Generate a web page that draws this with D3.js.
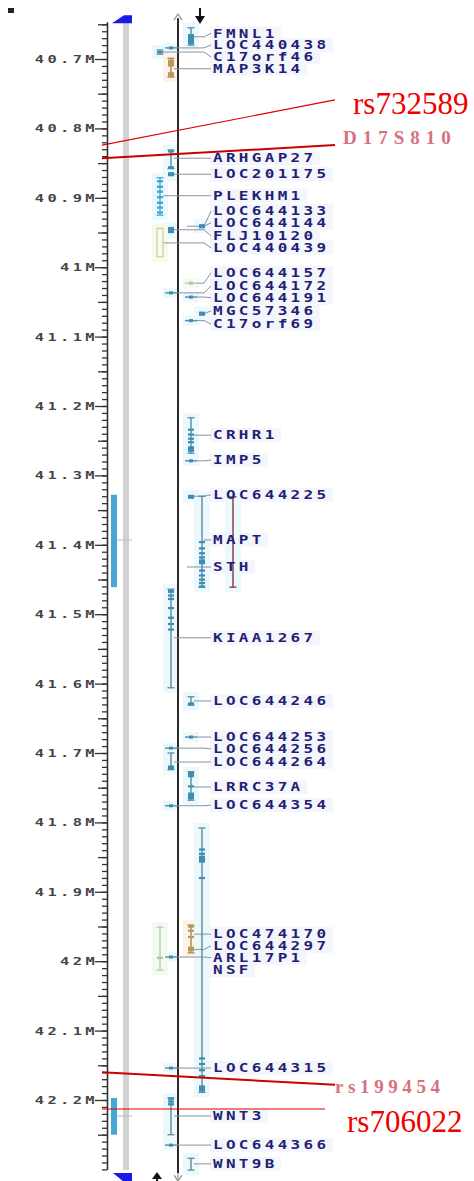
<!DOCTYPE html>
<html><head><meta charset="utf-8">
<script src="https://cdn.jsdelivr.net/npm/d3@7"></script>
<style>body{margin:0;background:#fff}svg{display:block}</style>
</head><body>
<svg id="c" width="474" height="1181"></svg>
<script>
// ---- data ----
const tickValues = [40.7,40.8,40.9,41.0,41.1,41.2,41.3,41.4,41.5,41.6,41.7,41.8,41.9,42.0,42.1,42.2];
const tickLabels = ["40.7M","40.8M","40.9M","41M","41.1M","41.2M","41.3M","41.4M","41.5M","41.6M","41.7M","41.8M","41.9M","42M","42.1M","42.2M"];
const viewRange = [40.647, 42.301];

// genes: name, lane, start, end (Mb), glyph kind, colour class, exons, connector anchor, label anchor (Mb)
const genes = [
  {name:"FMNL1",     lane:"R1", s:40.655, e:40.680, kind:"I",    c:"teal",  ex:[[40.664,40.679]], at:40.668, lab:40.663},
  {name:"LOC440438", lane:"L1", s:40.684, e:40.684, kind:"dash", c:"teal",  ex:[], at:40.684, lab:40.680},
  {name:"C17orf46",  lane:"L2", s:40.687, e:40.693, kind:"I",    c:"teal",  ex:[40.690], at:40.690, lab:40.697},
  {name:"MAP3K14",   lane:"L1", s:40.699, e:40.726, kind:"I",    c:"tan",   ex:[[40.701,40.711],[40.719,40.725]], at:40.714, lab:40.714},
  {name:"ARHGAP27",  lane:"L1", s:40.831, e:40.858, kind:"I",    c:"teal",  ex:[40.833,40.856], at:40.843, lab:40.843},
  {name:"LOC201175", lane:"L1", s:40.863, e:40.869, kind:"box",  c:"teal",  ex:[], at:40.866, lab:40.866},
  {name:"PLEKHM1",   lane:"L2", s:40.871, e:40.925, kind:"I",    c:"light", ex:[40.876,40.884,40.891,40.899,40.907,40.914,40.921], at:40.897, lab:40.897},
  {name:"LOC644133", lane:"R2", s:40.941, e:40.941, kind:"none", c:"teal",  ex:[], at:40.941, lab:40.919},
  {name:"LOC644144", lane:"R2", s:40.938, e:40.944, kind:"box",  c:"teal",  ex:[], at:40.941, lab:40.936, from:"R1"},
  {name:"FLJ10120",  lane:"L1", s:40.942, e:40.951, kind:"box",  c:"teal",  ex:[], at:40.946, lab:40.955},
  {name:"LOC440439", lane:"L2", s:40.944, e:40.985, kind:"outline", c:"yellow", ex:[], at:40.965, lab:40.972},
  {name:"LOC644157", lane:"R1", s:41.023, e:41.023, kind:"dash", c:"green", ex:[], at:41.023, lab:41.008},
  {name:"LOC644172", lane:"L1", s:41.037, e:41.037, kind:"dash", c:"teal",  ex:[], at:41.037, lab:41.027},
  {name:"LOC644191", lane:"R1", s:41.043, e:41.043, kind:"dash", c:"teal",  ex:[], at:41.043, lab:41.044},
  {name:"MGC57346",  lane:"R2", s:41.064, e:41.070, kind:"box",  c:"teal",  ex:[], at:41.067, lab:41.063},
  {name:"C17orf69",  lane:"R1", s:41.077, e:41.077, kind:"dash", c:"teal",  ex:[], at:41.077, lab:41.082},
  {name:"CRHR1",     lane:"R1", s:41.217, e:41.268, kind:"I",    c:"teal",  ex:[41.234,41.241,41.247,41.252,[41.258,41.266]], at:41.242, lab:41.242},
  {name:"IMP5",      lane:"R1", s:41.279, e:41.279, kind:"dash", c:"teal",  ex:[], at:41.279, lab:41.278},
  {name:"LOC644225", lane:"R1", s:41.328, e:41.332, kind:"box",  c:"teal",  ex:[], at:41.330, lab:41.328},
  {name:"MAPT",      lane:"R2", s:41.330, e:41.461, kind:"I",    c:"teal",  ex:[41.396,41.405,41.412,41.418,[41.421,41.428],41.437,41.444,41.450,41.455,41.460], at:41.393, lab:41.393},
  {name:"STH",       lane:"R3", s:41.331, e:41.461, kind:"I",    c:"red",   ex:[], at:41.432, lab:41.432, from:"R1"},
  {name:"KIAA1267",  lane:"L1", s:41.464, e:41.606, kind:"I",    c:"teal",  ex:[[41.465,41.469],41.473,41.478,41.491,41.505,41.514,41.522], at:41.534, lab:41.534},
  {name:"LOC644246", lane:"R1", s:41.619, e:41.631, kind:"I",    c:"teal",  ex:[[41.627,41.631]], at:41.625, lab:41.625},
  {name:"LOC644253", lane:"R1", s:41.677, e:41.677, kind:"dash", c:"teal",  ex:[], at:41.677, lab:41.677},
  {name:"LOC644256", lane:"L1", s:41.693, e:41.693, kind:"dash", c:"teal",  ex:[], at:41.693, lab:41.694},
  {name:"LOC644264", lane:"L1", s:41.700, e:41.724, kind:"I",    c:"teal",  ex:[[41.718,41.724]], at:41.713, lab:41.713},
  {name:"LRRC37A",   lane:"R1", s:41.727, e:41.768, kind:"I",    c:"teal",  ex:[[41.727,41.735],41.748,[41.757,41.767]], at:41.749, lab:41.749},
  {name:"LOC644354", lane:"L1", s:41.776, e:41.776, kind:"dash", c:"teal",  ex:[], at:41.776, lab:41.775},
  {name:"LOC474170", lane:"R1", s:41.948, e:41.988, kind:"I",    c:"tan",   ex:[41.950,41.956,41.965,[41.979,41.986]], at:41.961, lab:41.961},
  {name:"LOC644297", lane:"R1", s:41.983, e:41.983, kind:"none", c:"tan",   ex:[], at:41.983, lab:41.978},
  {name:"ARL17P1",   lane:"L1", s:41.994, e:41.994, kind:"dash", c:"teal",  ex:[], at:41.994, lab:41.995},
  {name:"NSF",       lane:"R2", s:41.808, e:42.189, kind:"I",    c:"teal",  ex:[41.839,41.845,[41.848,41.858],41.880,42.140,42.148,42.157,[42.164,42.168],[42.179,42.188]], at:null, lab:42.013},
  {name:"LOC644315", lane:"L1", s:42.154, e:42.154, kind:"dash", c:"teal",  ex:[], at:42.154, lab:42.154},
  {name:"WNT3",      lane:"L1", s:42.197, e:42.250, kind:"I",    c:"teal",  ex:[42.198,42.202,42.206], at:42.223, lab:42.223},
  {name:"LOC644366", lane:"L1", s:42.265, e:42.265, kind:"dash", c:"teal",  ex:[], at:42.265, lab:42.265},
  {name:"WNT9B",     lane:"R1", s:42.284, e:42.301, kind:"I",    c:"teal",  ex:[], at:42.292, lab:42.292}
];
// unlabelled transcript glyphs
const extraGlyphs = [
  {lane:"L2", s:41.951, e:42.013, kind:"I", c:"green", ex:[41.995]}
];
// marker names, left end, right end, text anchor (Mb)
const markerNames = ["rs732589","D17S810","rs199454","rs706022"];
const markerLeft  = [40.824, 40.843, 42.160, 42.213];
const markerRight = [40.759, 40.824, 42.178, 42.213];
const markerText  = [40.779, 40.823, 42.190, 42.246];
// ideogram highlighted bands and their centres
const bandStarts = [41.328, 42.197];
const bandEnds   = [41.461, 42.250];
const bandMarks  = [41.393, 42.223];

// ---- drawing ----
const svg = d3.select("#c");
const y = d3.scaleLinear().domain([40.7, 42.2]).range([59, 1100]);
const laneX = d3.scaleOrdinal().domain(["L2","L1","R1","R2","R3"]).range([160,171,191,202,233]);
const MAINX = 178, AXISX = 107, LABELX = 213;
const pal = {
  teal:{line:"#5a8c9a", box:"#3a8db4"},
  light:{line:"#46aad2", box:"#3ba3cf"},
  tan:{line:"#a8845a", box:"#bf9658"},
  green:{line:"#b4cab8", box:"#a9c3b0"},
  yellow:{line:"#d3d68e", box:"#d3d68e"},
  red:{line:"#8b3345", box:"#8b3345"}
};

// top cut icon
svg.append("rect").attr("x",8).attr("y",8).attr("width",6).attr("height",5).attr("fill","#222");

// ideogram
svg.append("rect").attr("x",123).attr("y",y(viewRange[0])).attr("width",6)
  .attr("height",y(viewRange[1])-y(viewRange[0])).attr("fill","#d2d2d2");
svg.selectAll("rect.band").data(bandStarts).join("rect").attr("class","band")
  .attr("x",111).attr("width",6)
  .attr("y",(d)=>y(d)).attr("height",(d,i)=>y(bandEnds[i])-y(d)).attr("fill","#46a6d6");
svg.selectAll("line.bm").data(bandMarks).join("line").attr("class","bm")
  .attr("x1",117).attr("x2",132).attr("y1",d=>y(d)).attr("y2",d=>y(d))
  .attr("stroke","#bbbbbb").attr("stroke-width",1);
// blue end triangles
const t0 = y(viewRange[0]), t1 = y(viewRange[1]);
svg.append("path").attr("d",`M112,${t0+1}L124,${t0-7}L132,${t0-7}L132,${t0+1}Z`).attr("fill","#1a1ae6");
svg.append("path").attr("d",`M113,${t1+3}L132,${t1+3}L132,${t1+12}L124,${t1+12}Z`).attr("fill","#1a1ae6");

// axis
const minor = d3.range(Math.round(viewRange[0]*100), Math.round(viewRange[1]*100)+1).map(v=>v/100);
const mid = minor.filter(v=>Math.round(v*100)%10===5);
const gAx = svg.append("g").attr("transform",`translate(${AXISX},0)`);
gAx.call(d3.axisLeft(y).tickValues(minor).tickSize(5).tickSizeOuter(0).tickFormat(""));
gAx.append("g").call(d3.axisLeft(y).tickValues(mid).tickSize(9).tickSizeOuter(0).tickFormat("")).select(".domain").remove();
const major = gAx.append("g").call(d3.axisLeft(y).tickValues(tickValues).tickSize(12).tickSizeOuter(0).tickFormat((d,i)=>tickLabels[i]));
major.select(".domain").remove();
gAx.selectAll(".domain").attr("stroke","#333").attr("stroke-width",1.6)
  .attr("d",`M0.5,${y(viewRange[0])}V${y(viewRange[1])}`);
gAx.selectAll(".tick line").attr("stroke","#333").attr("stroke-width",1.3);
const TSX = 1.4;
major.selectAll(".tick text").attr("x",-9/TSX).attr("dx",0)
  .attr("transform",`scale(${TSX},1)`)
  .attr("font-family","DejaVu Sans Mono").attr("font-weight","bold").attr("font-size",11)
  .attr("letter-spacing","2.4px").attr("fill","#454545");

// label backgrounds
svg.selectAll("rect.lbg").data(genes).join("rect").attr("class","lbg")
  .attr("x",LABELX-3).attr("y",d=>y(d.lab)-7).attr("height",14)
  .attr("width",d=>d.name.length*13+6).attr("fill","#f5f5fc");

// glyph halos
const allGlyphs = genes.filter(d=>d.kind!=="none").concat(extraGlyphs);
svg.selectAll("rect.halo").data(allGlyphs).join("rect").attr("class","halo")
  .attr("x",d=>laneX(d.lane)-8).attr("width",16)
  .attr("y",d=>y(d.s)-5).attr("height",d=>Math.max(10,y(d.e)-y(d.s)+10))
  .attr("fill",d=>d.c==="tan"?"#fcf4e6":(d.c==="green"||d.c==="yellow")?"#f5faef":"#ebf8fc");

// main line and arrows
svg.append("line").attr("x1",MAINX).attr("x2",MAINX).attr("y1",t0-4).attr("y2",t1+3)
  .attr("stroke","#2a2a2a").attr("stroke-width",2);
svg.append("path").attr("d",`M${MAINX-4},${t0-2}L${MAINX},${t0-8}L${MAINX+4},${t0-2}`).attr("fill","none").attr("stroke","#999").attr("stroke-width",1.3);
svg.append("path").attr("d",`M${MAINX-4},${t1+5}L${MAINX},${t1+11}L${MAINX+4},${t1+5}M${MAINX},${t1+3}V${t1+11}`).attr("fill","none").attr("stroke","#999").attr("stroke-width",1.3);
svg.append("path").attr("d","M200,8V22").attr("stroke","#111").attr("stroke-width",2);
svg.append("path").attr("d","M195,16L200,24L205,16Z").attr("fill","#111");
svg.append("path").attr("d",`M157,${t1+4}V${t1+12}`).attr("stroke","#111").attr("stroke-width",2);
svg.append("path").attr("d",`M152,${t1+9}L157,${t1+2}L162,${t1+9}Z`).attr("fill","#111");

// connectors
const conn = genes.filter(d=>d.at!==null);
svg.selectAll("polyline.cn").data(conn).join("polyline").attr("class","cn")
  .attr("points",d=>{
    const x0 = d.from ? laneX(d.from)-4 : laneX(d.lane)+(d.kind==="dash"?6:3);
    return `${x0},${y(d.at)} 204,${y(d.at)} ${LABELX-2},${y(d.lab)}`;
  })
  .attr("fill","none").attr("stroke","#8794a6").attr("stroke-width",1);

// glyphs
function drawGlyph(g, d){
  const x = laneX(d.lane), p = pal[d.c];
  const ys = y(d.s), ye = y(d.e);
  if(d.kind==="I"){
    g.append("line").attr("x1",x).attr("x2",x).attr("y1",ys).attr("y2",ye).attr("stroke",p.line).attr("stroke-width",1.4);
    [ys,ye].forEach(v=>g.append("line").attr("x1",x-3.5).attr("x2",x+3.5).attr("y1",v).attr("y2",v).attr("stroke",p.line).attr("stroke-width",1.3));
  } else if(d.kind==="dash"){
    g.append("line").attr("x1",x-6).attr("x2",x+6).attr("y1",ys).attr("y2",ys).attr("stroke",p.line).attr("stroke-width",1.4);
    g.append("rect").attr("x",x-2).attr("y",ys-1.5).attr("width",4).attr("height",3).attr("fill",p.box);
  } else if(d.kind==="box"){
    g.append("rect").attr("x",x-3).attr("y",ys).attr("width",6).attr("height",Math.max(4,ye-ys)).attr("fill",p.box);
  } else if(d.kind==="outline"){
    g.append("rect").attr("x",x-3).attr("y",ys).attr("width",6).attr("height",ye-ys).attr("fill","none").attr("stroke",p.line).attr("stroke-width",1.3);
  }
  d.ex.forEach(e=>{
    if(Array.isArray(e)){
      g.append("rect").attr("x",x-3).attr("y",y(e[0])).attr("width",6).attr("height",Math.max(3,y(e[1])-y(e[0]))).attr("fill",p.box);
    } else {
      g.append("rect").attr("x",x-3).attr("y",y(e)-1).attr("width",6).attr("height",2.2).attr("fill",p.box);
    }
  });
}
svg.append("g").selectAll("g").data(allGlyphs).join("g").each(function(d){ drawGlyph(d3.select(this), d); });

// labels
const LSX = 1.33;
svg.selectAll("text.gl").data(genes).join("text").attr("class","gl")
  .attr("transform",d=>`translate(${LABELX},${y(d.lab)}) scale(${LSX},1)`)
  .attr("x",0).attr("y",0).attr("dominant-baseline","central")
  .attr("font-family","DejaVu Sans Mono").attr("font-weight","bold").attr("font-size",12)
  .attr("letter-spacing","2.5px").attr("fill","#1f1f74").text(d=>d.name);

// markers
const mk = svg.append("g");
markerNames.forEach((n,i)=>{
  const thick = (n==="D17S810"||n==="rs199454");
  const right = (n==="rs706022") ? 325 : 335;
  mk.append("line").attr("x1",102).attr("x2",right).attr("y1",y(markerLeft[i])).attr("y2",y(markerRight[i]))
    .attr("stroke",thick?"#cc0000":"#e00000").attr("stroke-width",thick?2:1.2);
});
const big = {size:31, fill:"#ee0000", ls:0, w:"normal"};
const smallA = {size:19, fill:"#d8707e", ls:6, w:"bold"};
const smallB = {size:19, fill:"#d8707e", ls:4.6, w:"bold"};
const mStyle = [big, smallA, smallB, big];
const mX = [353, 343, 335, 347];
markerNames.forEach((n,i)=>{
  mk.append("text").attr("x",mX[i]).attr("y",y(markerText[i]))
    .attr("font-family","Liberation Serif").attr("font-size",mStyle[i].size)
    .attr("font-weight",mStyle[i].w)
    .attr("letter-spacing",mStyle[i].ls+"px").attr("fill",mStyle[i].fill).text(n);
});
</script>
</body></html>
